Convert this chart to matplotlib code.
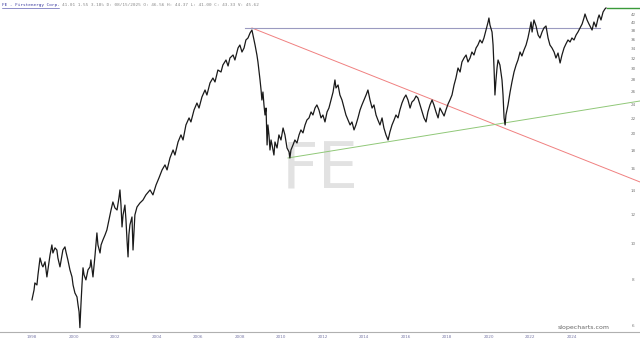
import matplotlib
matplotlib.use("Agg")
import matplotlib.pyplot as plt
from matplotlib.lines import Line2D

# ---- data ----
years = [
 1998.00,1998.10,1998.14,1998.24,1998.29,1998.39,1998.48,1998.53,1998.63,1998.72,1998.82,1998.87,1998.96,
 1999.01,1999.11,1999.20,1999.25,1999.35,1999.45,1999.49,1999.59,1999.64,1999.73,1999.83,1999.93,1999.98,
 2000.07,2000.17,2000.22,2000.27,2000.31,2000.36,2000.41,2000.46,2000.51,2000.60,2000.70,2000.80,2000.84,2000.94,
 2001.04,2001.13,2001.18,2001.28,2001.33,2001.42,2001.52,2001.61,2001.71,2001.81,2001.90,
 2002.00,2002.10,2002.19,2002.24,2002.29,2002.34,2002.39,2002.48,2002.53,2002.58,2002.63,2002.67,2002.72,2002.82,2002.87,2002.92,2002.96,
 2003.06,2003.20,2003.35,2003.49,2003.69,2003.83,2003.98,
 2004.12,2004.27,2004.41,2004.51,2004.65,2004.80,2004.89,
 2005.04,2005.18,2005.28,2005.42,2005.57,2005.66,2005.81,2005.95,
 2006.05,2006.19,2006.34,2006.43,2006.58,2006.72,2006.82,2006.96,
 2007.11,2007.20,2007.35,2007.45,2007.54,2007.69,2007.78,2007.93,
 2008.02,2008.12,2008.22,2008.31,2008.41,2008.51,2008.60,2008.65,2008.75,2008.84,2008.89,2008.99,
 2009.04,2009.08,2009.13,2009.18,2009.23,2009.28,2009.33,2009.37,2009.42,2009.47,2009.52,2009.57,2009.66,2009.71,2009.81,2009.90,
 2010.00,2010.10,2010.19,2010.29,2010.39,2010.43,2010.48,2010.58,2010.67,2010.77,2010.87,2010.96,
 2011.06,2011.16,2011.25,2011.35,2011.45,2011.54,2011.64,2011.73,2011.83,2011.93,
 2012.02,2012.12,2012.22,2012.31,2012.41,2012.51,2012.60,2012.65,2012.75,2012.84,2012.94,
 2013.04,2013.13,2013.23,2013.33,2013.42,2013.52,2013.61,2013.71,2013.81,2013.90,
 2014.00,2014.10,2014.19,2014.29,2014.39,2014.48,2014.58,2014.67,2014.77,2014.87,2014.96,
 2015.06,2015.16,2015.25,2015.35,2015.45,2015.54,2015.64,2015.73,2015.83,2015.93,
 2016.02,2016.12,2016.22,2016.31,2016.41,2016.51,2016.60,2016.70,2016.80,2016.89,2016.99,
 2017.08,2017.18,2017.28,2017.37,2017.47,2017.57,2017.66,2017.76,2017.86,2017.95,
 2018.05,2018.14,2018.24,2018.34,2018.43,2018.53,2018.63,2018.72,2018.82,2018.92,
 2019.01,2019.11,2019.20,2019.30,2019.40,2019.49,2019.59,2019.69,2019.78,2019.88,2019.98,
 2020.02,2020.07,2020.17,2020.22,2020.27,2020.31,2020.36,2020.41,2020.46,2020.55,2020.65,2020.70,2020.75,2020.80,2020.84,2020.94,
 2021.04,2021.13,2021.23,2021.33,2021.42,2021.52,2021.61,2021.71,2021.81,2021.90,
 2022.00,2022.05,2022.10,2022.19,2022.29,2022.39,2022.48,2022.58,2022.67,2022.77,2022.87,2022.96,
 2023.06,2023.16,2023.25,2023.35,2023.45,2023.54,2023.64,2023.73,2023.83,2023.93,
 2024.02,2024.12,2024.22,2024.31,2024.41,2024.51,2024.60,2024.65,2024.75,2024.84,2024.94,2024.99,
 2025.08,2025.18,2025.28,2025.33,2025.42,2025.52,2025.61,2025.66,
]
prices = [
 7.07,7.52,7.86,7.76,8.27,9.19,8.80,8.69,8.97,8.16,8.97,9.36,9.97,
 9.48,9.79,9.66,9.19,8.69,9.36,9.66,9.85,9.54,9.08,8.53,8.16,7.76,
 7.38,7.20,6.85,6.56,5.94,6.85,7.76,8.64,8.27,8.01,8.53,8.69,9.08,8.16,
 9.36,10.75,9.97,9.48,9.97,10.29,10.61,10.95,11.66,12.41,13.05,
 12.57,12.41,13.38,14.07,12.80,11.16,12.03,12.80,11.66,10.29,9.25,10.61,11.30,11.88,9.66,10.95,12.03,
 12.64,12.96,13.21,13.64,14.07,13.64,14.52,
 15.17,15.95,16.46,15.95,17.19,18.07,17.51,
 19.00,19.86,19.24,21.14,22.09,21.54,23.22,24.25,
 23.50,25.18,26.31,25.50,27.50,28.36,27.67,29.82,
 29.45,30.77,31.75,30.58,32.15,32.76,31.75,34.23,
 34.88,33.38,34.23,35.99,36.44,37.60,38.31,37.13,34.88,32.76,31.36,28.02,
 26.31,24.71,25.98,23.96,22.50,23.50,18.65,21.14,19.86,18.07,19.24,18.65,17.51,19.00,18.30,19.86,
 19.24,20.74,19.86,18.30,17.85,17.19,18.07,18.65,19.24,18.88,19.86,20.49,
 20.11,21.14,21.81,22.09,22.93,22.50,23.50,23.96,23.22,22.09,
 22.50,21.54,22.93,23.50,24.71,25.98,28.02,26.65,27.15,25.50,24.71,
 23.50,22.50,21.81,21.14,21.54,20.49,21.14,22.09,23.22,23.96,
 24.71,25.50,26.31,24.71,23.50,23.96,22.50,21.81,21.14,22.09,20.74,
 19.86,19.24,20.24,21.14,21.81,22.50,22.09,23.22,24.25,25.02,
 25.50,24.71,23.50,24.40,24.71,25.34,25.02,23.96,22.93,22.09,21.54,
 22.93,23.96,24.71,23.96,22.93,22.09,23.50,22.93,22.36,23.22,
 24.10,24.71,25.50,27.15,28.36,30.20,29.45,31.36,32.15,32.76,
 31.36,32.15,33.38,32.76,34.23,34.88,35.99,35.32,36.44,38.31,40.28,
 41.30,39.53,37.83,34.88,29.82,25.50,28.02,30.20,31.75,30.77,28.02,25.50,22.09,21.14,22.50,23.96,
 25.98,27.67,29.45,30.77,31.75,33.38,32.56,33.80,34.88,36.44,
 38.80,40.28,37.83,40.79,39.29,37.13,36.44,37.83,38.80,39.29,36.44,34.88,
 34.23,33.38,32.15,33.17,31.16,32.76,34.23,35.10,35.99,35.54,
 36.44,35.99,37.13,37.83,38.80,39.78,41.30,42.35,40.79,39.78,38.80,38.31,
 40.28,39.04,41.30,42.09,40.79,42.88,43.70,43.97,
]

# trend / reference lines (endpoints)
red_line_x = [2008.60, 2027.30]
red_line_y = [38.80, 14.79]
green_line_x = [2010.34, 2027.30]
green_line_y = [17.19, 24.56]
peak_line_x = [2008.27, 2025.37]
peak_line_y = [38.70, 38.70]
last_line_x = [2025.70, 2027.30]
last_line_y = [44.0, 44.0]

x_ticks = list(range(1998, 2025, 2))
x_tick_labels = [str(y) for y in x_ticks]
y_ticks = list(range(6, 43, 2))
y_tick_labels = [str(v) for v in y_ticks]

header_name = "FE - Firstenergy Corp."
header_rest = "41.01 1.55 3.18% D: 08/15/2025 O: 46.56 H: 44.37 L: 41.00 C: 43.33 V: 45.62"

# ---- figure ----
W, H = 640, 343
fig = plt.figure(figsize=(W / 100, H / 100), dpi=100)
fig.patch.set_facecolor("white")
ax = fig.add_axes([0, 1 - 332 / H, 1, 332 / H])
ax.set_facecolor("white")
ax.set_yscale("log")
ax.set_xlim(1996.46, 2027.30)
ax.set_ylim(5.78, 46.23)

# watermark
ax.text(0.5, 0.485, "FE", transform=ax.transAxes, ha="center", va="center",
        fontsize=46, color="#e2e2e2", family="DejaVu Sans", zorder=0)

# reference lines
ax.plot(red_line_x, red_line_y, color="#f08080", lw=0.7, zorder=1)
ax.plot(green_line_x, green_line_y, color="#90c878", lw=0.7, zorder=1)
ax.plot(peak_line_x, peak_line_y, color="#9a9ac0", lw=0.8, zorder=1)
ax.plot(last_line_x, last_line_y, color="#3a9a3a", lw=1.0, zorder=2)
ax.plot([last_line_x[0], last_line_x[0]], [prices[-1], last_line_y[0]], color="#3a9a3a", lw=1.0, zorder=2)

# price
ax.plot(years, prices, color="#1a1a1a", lw=0.9, zorder=3)

# axes styling
for s in ["top", "left", "right"]:
    ax.spines[s].set_visible(False)
ax.spines["bottom"].set_color("#b0b0b0")
ax.spines["bottom"].set_linewidth(0.8)
ax.set_xticks(x_ticks)
ax.set_xticklabels(x_tick_labels)
ax.tick_params(axis="x", length=0, pad=2.5, labelsize=3, labelcolor="#7a7aa8")
ax.minorticks_off()
ax.set_yticks([])
ax.yaxis.set_minor_locator(matplotlib.ticker.NullLocator())
for v, lab in zip(y_ticks, y_tick_labels):
    ax.text(633 / W, v, lab, transform=ax.get_yaxis_transform(), ha="center", va="center",
            fontsize=3, color="#777777")

# header
fig.text(2 / W, 1 - 5 / H, header_name, ha="left", va="center", fontsize=3.2,
         family="DejaVu Sans Mono", color="#3a3aa0")
fig.add_artist(Line2D([2 / W, 59 / W], [1 - 7.5 / H, 1 - 7.5 / H], color="#3a3aa0", lw=0.4))
fig.text(62 / W, 1 - 5 / H, header_rest, ha="left", va="center", fontsize=3.2,
         family="DejaVu Sans Mono", color="#8a8a8a")

# brand
fig.text(558 / W, 1 - 327 / H, "slopecharts.com", ha="left", va="center", fontsize=4.5,
         color="#666666")

fig.savefig("out.png", dpi=100)
